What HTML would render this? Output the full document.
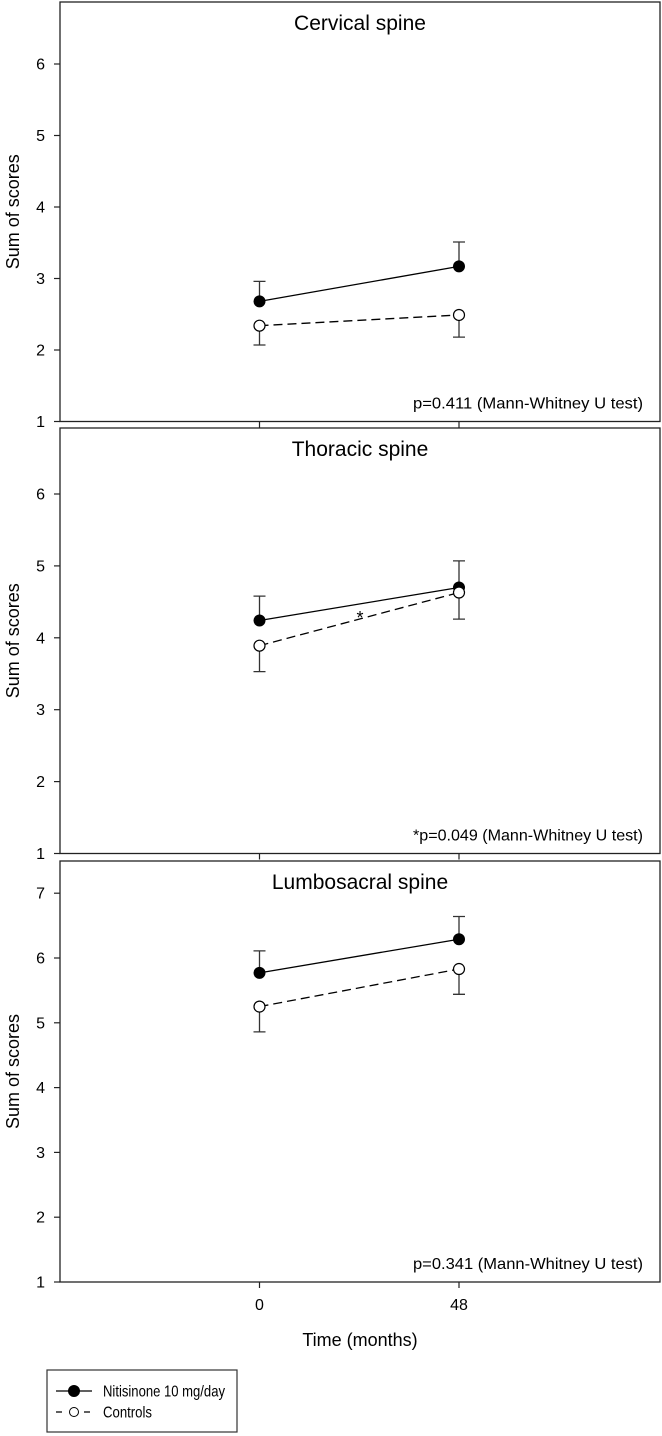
<!DOCTYPE html>
<html><head><meta charset="utf-8"><style>
html,body{margin:0;padding:0;background:#fff;}
svg{display:block;font-family:"Liberation Sans",Arial,sans-serif;}
</style></head><body>
<svg id="chart" width="662" height="1436" viewBox="0 0 662 1436" xmlns="http://www.w3.org/2000/svg"></svg>
<script>
const panelTitles = ["Cervical spine", "Thoracic spine", "Lumbosacral spine"];
const pTexts = ["p=0.411 (Mann-Whitney U test)", "*p=0.049 (Mann-Whitney U test)", "p=0.341 (Mann-Whitney U test)"];
const timeCats = [0, 48];
const nitMeans = [[2.68, 3.17], [4.24, 4.70], [5.77, 6.29]];
const nitErr = [[0.28, 0.34], [0.34, 0.37], [0.34, 0.35]];
const ctrlMeans = [[2.34, 2.49], [3.89, 4.63], [5.25, 5.83]];
const ctrlErr = [[0.27, 0.31], [0.36, 0.37], [0.39, 0.39]];
const yTicks = [[1,2,3,4,5,6],[1,2,3,4,5,6],[1,2,3,4,5,6,7]];
const seriesNames = ["Nitisinone 10 mg/day", "Controls"];

const NS = "http://www.w3.org/2000/svg";
const svg = document.getElementById('chart');
function mk(tag, attrs, parent) {
  const e = document.createElementNS(NS, tag);
  for (const k in attrs) e.setAttribute(k, attrs[k]);
  (parent || svg).appendChild(e);
  return e;
}
const panels = [
  {top: 2, bottom: 421.5, y1: 421.5, perUnit: 71.5},
  {top: 428, bottom: 853.5, y1: 853.5, perUnit: 71.9},
  {top: 861, bottom: 1282, y1: 1282, perUnit: 64.8}
];
const left = 60, right = 660;
const xScale = v => 259.5 + (v - 0) * (459 - 259.5) / 48;

panels.forEach((p, i) => {
  const g = mk('g', {});
  
  
  const yS = v => p.y1 - (v - 1) * p.perUnit;
  const box = mk('rect', {x: left, y: p.top, width: right - left, height: p.bottom - p.top, fill: 'none', stroke: '#222', 'stroke-width': 1.3}, g);
  
  
  const t = mk('text', {x: 360, y: p.top + 28, 'font-size': 21, 'text-anchor': 'middle', fill: '#000'}, g);
  t.textContent = panelTitles[i];
  
  
  yTicks[i].forEach(v => {
    const y = yS(v);
    const tk = mk('line', {x1: left - 6, x2: left, y1: y, y2: y, stroke: '#222', 'stroke-width': 1.2}, g);
    
    
    const tl = mk('text', {x: 45, y: y + 5.5, 'font-size': 16, 'text-anchor': 'end', fill: '#000'}, g);
    tl.textContent = v;
    
    
  });
  timeCats.forEach(c => {
    const tk = mk('line', {x1: xScale(c), x2: xScale(c), y1: p.bottom, y2: p.bottom + 6, stroke: '#222', 'stroke-width': 1.2}, g);
    
    
  });
  const mid = (p.top + p.bottom) / 2;
  const yt = mk('text', {x: 0, y: 0, 'font-size': 18, 'text-anchor': 'middle', fill: '#000', transform: `translate(19,${mid}) rotate(-90)`}, g);
  yt.textContent = 'Sum of scores';
  
  
  const pt = mk('text', {x: 643, y: p.bottom - 13, 'font-size': 16, 'text-anchor': 'end', fill: '#000', textLength: 230, lengthAdjust: 'spacingAndGlyphs'}, g);
  pt.textContent = pTexts[i];
  
  
  timeCats.forEach((c, j) => {
    const x = xScale(c);
    const ny = yS(nitMeans[i][j]), nt = yS(nitMeans[i][j] + nitErr[i][j]);
    const e1 = mk('path', {d: `M${x},${ny}V${nt}M${x-6},${nt}H${x+6}`, stroke: '#333', 'stroke-width': 1.3, fill: 'none'}, g);
    
    
    const cy = yS(ctrlMeans[i][j]), cb = yS(ctrlMeans[i][j] - ctrlErr[i][j]);
    const e2 = mk('path', {d: `M${x},${cy}V${cb}M${x-6},${cb}H${x+6}`, stroke: '#333', 'stroke-width': 1.3, fill: 'none'}, g);
    
    
  });
  const nl = mk('polyline', {points: timeCats.map((c, j) => xScale(c) + ',' + yS(nitMeans[i][j])).join(' '), stroke: '#000', 'stroke-width': 1.3, fill: 'none'}, g);
  
  
  const cl = mk('polyline', {points: timeCats.map((c, j) => xScale(c) + ',' + yS(ctrlMeans[i][j])).join(' '), stroke: '#000', 'stroke-width': 1.3, fill: 'none', 'stroke-dasharray': '9,5'}, g);
  
  
  timeCats.forEach((c, j) => {
    const m1 = mk('circle', {cx: xScale(c), cy: yS(nitMeans[i][j]), r: 5.5, fill: '#000', stroke: '#000'}, g);
    
    
    const m2 = mk('circle', {cx: xScale(c), cy: yS(ctrlMeans[i][j]), r: 5.5, fill: '#fff', stroke: '#000', 'stroke-width': 1.2}, g);
    
    
  });
  if (i === 1) {
    const st = mk('text', {x: 360, y: 624, 'font-size': 18, 'text-anchor': 'middle', fill: '#000'}, g);
    st.textContent = '*';
    
    
  }
});
timeCats.forEach(c => {
  const tl = mk('text', {x: xScale(c), y: 1310, 'font-size': 16, 'text-anchor': 'middle', fill: '#000'});
  tl.textContent = c;
  
  
});
const xt = mk('text', {x: 360, y: 1346, 'font-size': 18, 'text-anchor': 'middle', fill: '#000'});
xt.textContent = 'Time (months)';


const lg = mk('g', {});


const lb = mk('rect', {x: 47, y: 1370, width: 190, height: 62, fill: '#fff', stroke: '#333', 'stroke-width': 1.2}, lg);


const legendWidths = [122, 49];
seriesNames.forEach((s, k) => {
  const y = 1391 + k * 21;
  const ln = mk('line', {x1: 56, x2: 92, y1: y, y2: y, stroke: '#000', 'stroke-width': 1.3, 'stroke-dasharray': k ? '6,8' : 'none'}, lg);
  
  
  const c = mk('circle', {cx: 74, cy: y, r: k ? 4.5 : 5.5, fill: k ? '#fff' : '#000', stroke: '#000'}, lg);
  
  
  const tx = mk('text', {x: 103, y: y + 5.5, 'font-size': 16, fill: '#000', textLength: legendWidths[k], lengthAdjust: 'spacingAndGlyphs'}, lg);
  tx.textContent = s;
  
  
});
</script>
</body></html>
